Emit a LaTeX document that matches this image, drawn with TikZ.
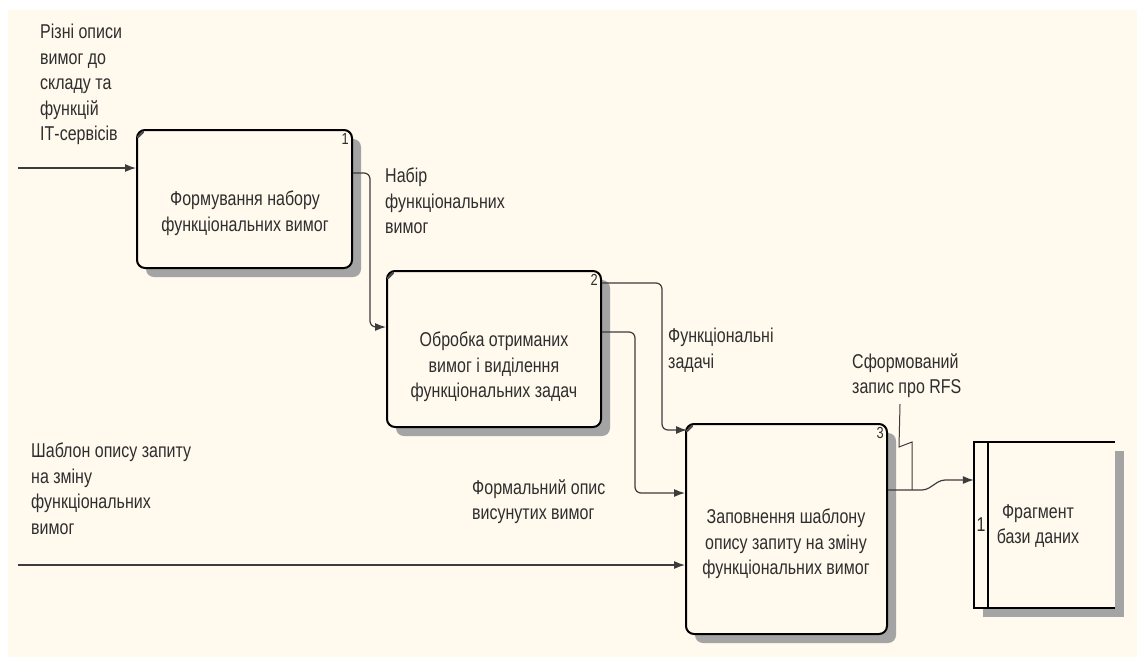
\documentclass[tikz,border=0pt]{standalone}
\usepackage{fontspec}
\setmainfont[FakeStretch=0.8]{Liberation Sans}
\usetikzlibrary{arrows.meta,calc,shadows}
\definecolor{paper}{HTML}{FFF9EE}
\definecolor{ink}{HTML}{2E2E2E}
\definecolor{wire}{HTML}{3C3C3C}
\definecolor{shade}{HTML}{A4A4A4}

\begin{document}
\begin{tikzpicture}[x=1pt,y=-1pt,
  every node/.style={font=\fontsize{20}{25.5}\selectfont, text=ink},
  proc/.style={draw=black, line width=2pt, rounded corners=8pt, fill=paper,
    inner sep=0pt, drop shadow={shadow xshift=9pt, shadow yshift=-9pt, fill=shade, opacity=1}},
  boxtext/.style={align=center, inner sep=0pt},
  lbl/.style={align=left, anchor=north west, inner sep=0pt},
  num/.style={font=\fontsize{16}{18}\selectfont, inner sep=0pt, anchor=north east},
  flow/.style={draw=wire, line width=1.2pt, rounded corners=6pt, -{Latex[length=11pt,width=8pt]}},
  lead/.style={draw=wire, line width=1pt},
  notch/.style={line width=2.2pt, line cap=round, draw=black!70}
]
% page and paper
\useasboundingbox (0,0) rectangle (1137,657);
\fill[white] (0,0) rectangle (1137,657);
\fill[paper] (8,10) rectangle (1137,657);

% activity boxes
\node[proc, minimum width=215pt, minimum height=138pt] (p1) at (244.5,199) {};
\node[proc, minimum width=214pt, minimum height=156pt] (p2) at (494,349) {};
\node[proc, minimum width=201pt, minimum height=210pt] (p3) at (786.5,529) {};

\foreach \b in {p1,p2,p3}
  \draw[notch] ($(\b.north west)+(2,8)$) -- ($(\b.north west)+(7,3)$);

\node[num] at ($(p1.north east)+(-4,4)$) {1};
\node[num] at ($(p2.north east)+(-4,4)$) {2};
\node[num] at ($(p3.north east)+(-4,4)$) {3};

\node[boxtext] (t1) at (245,213) {Формування набору\\функціональних вимог};
\node[boxtext] (t2) at (494,367) {Обробка отриманих\\вимог і виділення\\функціональних задач};
\node[boxtext] (t3) at (786,544) {Заповнення шаблону\\опису запиту на зміну\\функціональних вимог};

% data store
\node[fill=paper, minimum width=141pt, minimum height=166pt, inner sep=0pt,
  drop shadow={shadow xshift=9pt, shadow yshift=-9pt, fill=shade, opacity=1}] (db) at (1044.5,525) {};
\draw[line width=1.6pt, black] (db.north east) -- (db.north west) -- (db.south west) -- (db.south east);
\draw[line width=1.6pt, black] ($(db.north west)+(14,0)$) -- ($(db.south west)+(14,0)$);
\node[inner sep=0pt] (dbn) at (981,525) {1};
\node[boxtext] (dbt) at (1038,526) {Фрагмент\\бази даних};

% external ends
\coordinate (in1) at (18,168);
\coordinate (in2) at (18,565);

% connectors
\draw[flow] (in1) -- (p1.west |- in1);
\draw[flow] (in2) -- (p3.west |- in2);
\draw[flow] (p1.east |- 0,173) -- (370,173) -- (370,327) -- (p2.west |- 0,327);
\draw[flow] (p2.east |- 0,283) -- (662,283) -- (662,430) -- ($(p3.west |- 0,430)+(2,0)$);
\draw[flow] (p2.east |- 0,332) -- (635,332) -- (635,493) -- (p3.west |- 0,493);
\draw[flow, rounded corners=4pt] (p3.east |- 0,490) -- (926,490) -- (941,480) -- (db.west |- 0,480);

% labels
\node[lbl] (l1) at (40,24) {Різні описи\\вимог до\\складу та\\функцій\\ІТ-сервісів};
\node[lbl] (l2) at (385,168) {Набір\\функціональних\\вимог};
\node[lbl] (l3) at (668,328) {Функціональні\\задачі};
\node[lbl] (l4) at (852,353) {Сформований\\запис про RFS};
\node[lbl] (l5) at (31,443) {Шаблон опису запиту\\на зміну\\функціональних\\вимог};
\node[lbl] (l6) at (472,479) {Формальний опис\\висунутих вимог};

% squiggle tying the output label to its arrow
\draw[lead] (900,404) -- (899,447) -- (912,442) -- (912,490);
\end{tikzpicture}
\end{document}
